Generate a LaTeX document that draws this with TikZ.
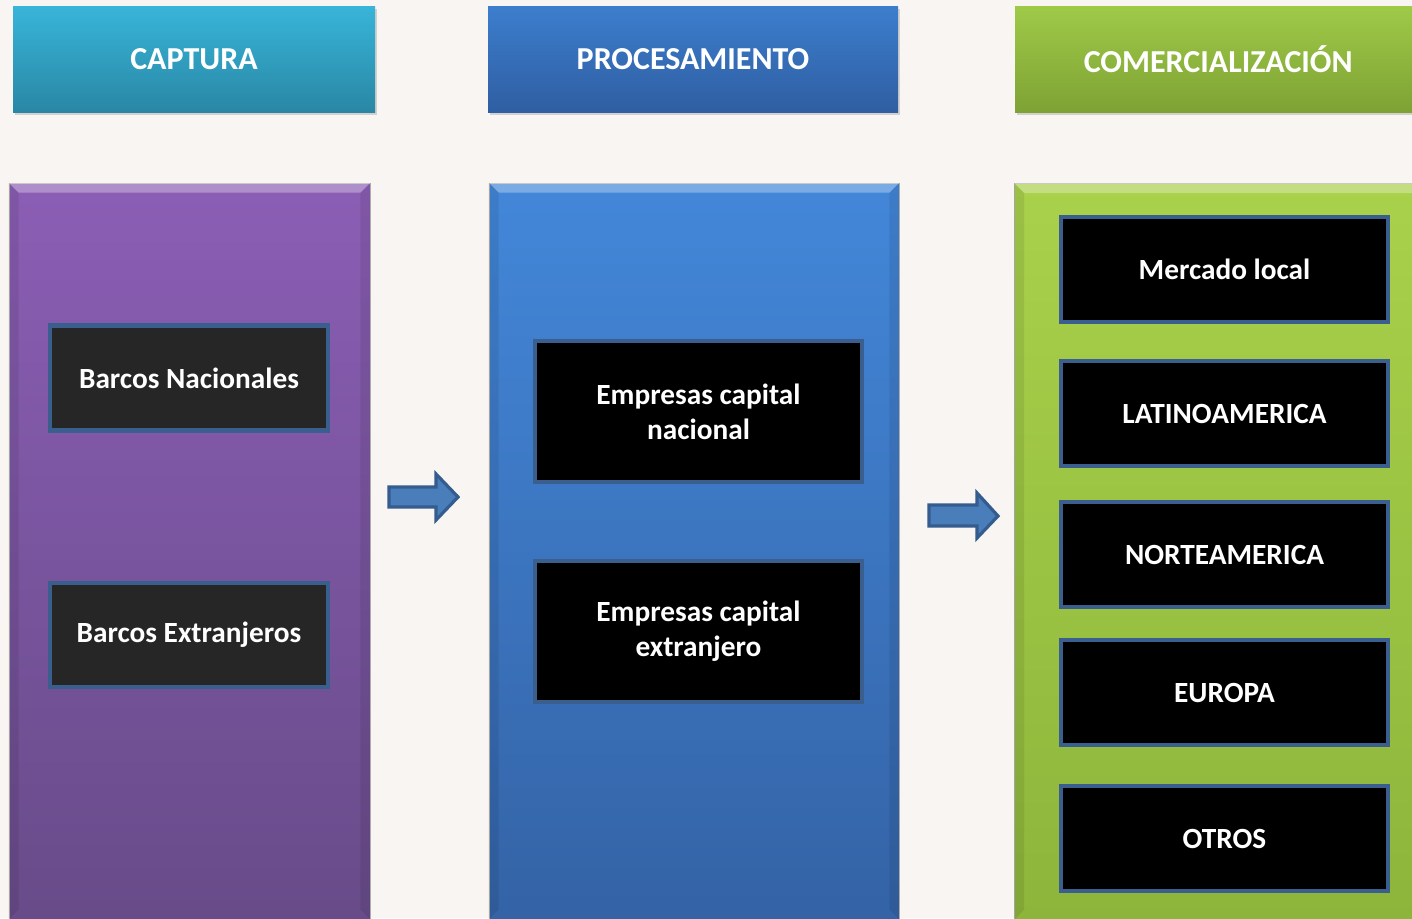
\documentclass[tikz,border=0pt]{standalone}
\usepackage{fontspec}
\setmainfont{Carlito}
\usetikzlibrary{shadows}
\definecolor{bgc}{HTML}{F8F5F2}
\definecolor{boxedge}{HTML}{3A5F8F}
\definecolor{arrfill}{HTML}{4A7EBB}
\definecolor{arredge}{HTML}{345C8E}
\definecolor{hAt}{HTML}{38B5D9}
\definecolor{hAb}{HTML}{2987A5}
\definecolor{hBt}{HTML}{3C7ECD}
\definecolor{hBb}{HTML}{2F5EA2}
\definecolor{hCt}{HTML}{9FCA48}
\definecolor{hCb}{HTML}{7EA234}
\definecolor{cAt}{HTML}{8B5EB5}
\definecolor{cAb}{HTML}{684B89}
\definecolor{cBt}{HTML}{4387D9}
\definecolor{cBb}{HTML}{3463A6}
\definecolor{cCt}{HTML}{A9D14B}
\definecolor{cCb}{HTML}{8DB53B}
\definecolor{darkfill}{HTML}{262626}
\tikzset{
  header/.style={minimum width=#1, minimum height=106pt, inner sep=0pt,
    text=white, font=\fontsize{32}{36}\selectfont\bfseries,
    drop shadow={shadow xshift=2pt, shadow yshift=-3pt, opacity=0.3}},
  column/.style={minimum width=#1, inner sep=0pt, draw=black!30, line width=0.8pt},
  item/.style={minimum width=#1, inner sep=0pt, draw=boxedge, line width=4.5pt,
    text=white, font=\fontsize{29.3}{35}\selectfont\bfseries, align=center},
  blockarrow/.style={fill=arrfill, draw=arredge, line width=3.2pt, line join=miter},
  bevellight/.style={fill=white, opacity=0.3},
  beveldark/.style={fill=black, opacity=0.08},
}
\begin{document}
\begin{tikzpicture}[x=1pt,y=-1pt]
\useasboundingbox (0,0) rectangle (1412,918);
\clip (0,0) rectangle (1412,918);
\fill[bgc] (0,0) rectangle (1412,918);

% headers
\node[header=362pt, top color=hAt, bottom color=hAb] (h1) at (194,59) {CAPTURA};
\node[header=410pt, top color=hBt, bottom color=hBb] (h2) at (693,59) {PROCESAMIENTO};
\node[header=406pt, top color=hCt, bottom color=hCb, anchor=west] (h3) at (1015,59) {COMERCIALIZACIÓN};

% columns
\node[column=361pt, minimum height=736pt, top color=cAt, bottom color=cAb] (c1) at (189.5,551) {};
\node[column=410pt, minimum height=736pt, top color=cBt, bottom color=cBb] (c2) at (694,551) {};
\node[column=410pt, minimum height=736pt, top color=cCt, bottom color=cCb, anchor=north west] (c3) at (1014,183) {};
% bevel highlights
\fill[bevellight] (c1.north west) -- (c1.north east) -- ([xshift=-10pt,yshift=-10pt]c1.north east) -- ([xshift=10pt,yshift=-10pt]c1.north west) -- cycle;
\fill[bevellight] (c2.north west) -- (c2.north east) -- ([xshift=-10pt,yshift=-10pt]c2.north east) -- ([xshift=10pt,yshift=-10pt]c2.north west) -- cycle;
\fill[bevellight] (c3.north west) -- (c3.north east) -- ([xshift=-10pt,yshift=-10pt]c3.north east) -- ([xshift=10pt,yshift=-10pt]c3.north west) -- cycle;
\fill[beveldark] (c1.north west) -- ([xshift=10pt,yshift=-10pt]c1.north west) -- ([xshift=10pt,yshift=10pt]c1.south west) -- (c1.south west) -- cycle;
\fill[beveldark] (c1.north east) -- ([xshift=-10pt,yshift=-10pt]c1.north east) -- ([xshift=-10pt,yshift=10pt]c1.south east) -- (c1.south east) -- cycle;
\fill[beveldark] (c2.north west) -- ([xshift=10pt,yshift=-10pt]c2.north west) -- ([xshift=10pt,yshift=10pt]c2.south west) -- (c2.south west) -- cycle;
\fill[beveldark] (c2.north east) -- ([xshift=-10pt,yshift=-10pt]c2.north east) -- ([xshift=-10pt,yshift=10pt]c2.south east) -- (c2.south east) -- cycle;
\fill[beveldark] (c3.north west) -- ([xshift=10pt,yshift=-10pt]c3.north west) -- ([xshift=10pt,yshift=10pt]c3.south west) -- (c3.south west) -- cycle;

% items column 1
\node[item=278pt, minimum height=105pt, fill=darkfill] (b1) at (189,378) {Barcos Nacionales};
\node[item=278pt, minimum height=104pt, fill=darkfill] (b2) at (189,635) {Barcos Extranjeros};
% items column 2
\node[item=327pt, minimum height=141pt, fill=black] (e1) at (698.5,411.5) {Empresas capital\\nacional};
\node[item=327pt, minimum height=141pt, fill=black] (e2) at (698.5,631.5) {Empresas capital\\extranjero};
% items column 3
\node[item=327pt, minimum height=105pt, fill=black] (m1) at (1224.5,269.5) {Mercado local};
\node[item=327pt, minimum height=105pt, fill=black] (m2) at (1224.5,413.5) {LATINOAMERICA};
\node[item=327pt, minimum height=105pt, fill=black] (m3) at (1224.5,554.5) {NORTEAMERICA};
\node[item=327pt, minimum height=105pt, fill=black] (m4) at (1224.5,692.5) {EUROPA};
\node[item=327pt, minimum height=105pt, fill=black] (m5) at (1224.5,838.5) {OTROS};

% block arrows
\draw[blockarrow] (389,487) -- (436,487) -- (436,474) -- (458,497) -- (436,520) -- (436,507) -- (389,507) -- cycle;
\draw[blockarrow] (929,505) -- (977,505) -- (977,493) -- (998,516) -- (977,538) -- (977,526) -- (929,526) -- cycle;
\end{tikzpicture}
\end{document}
